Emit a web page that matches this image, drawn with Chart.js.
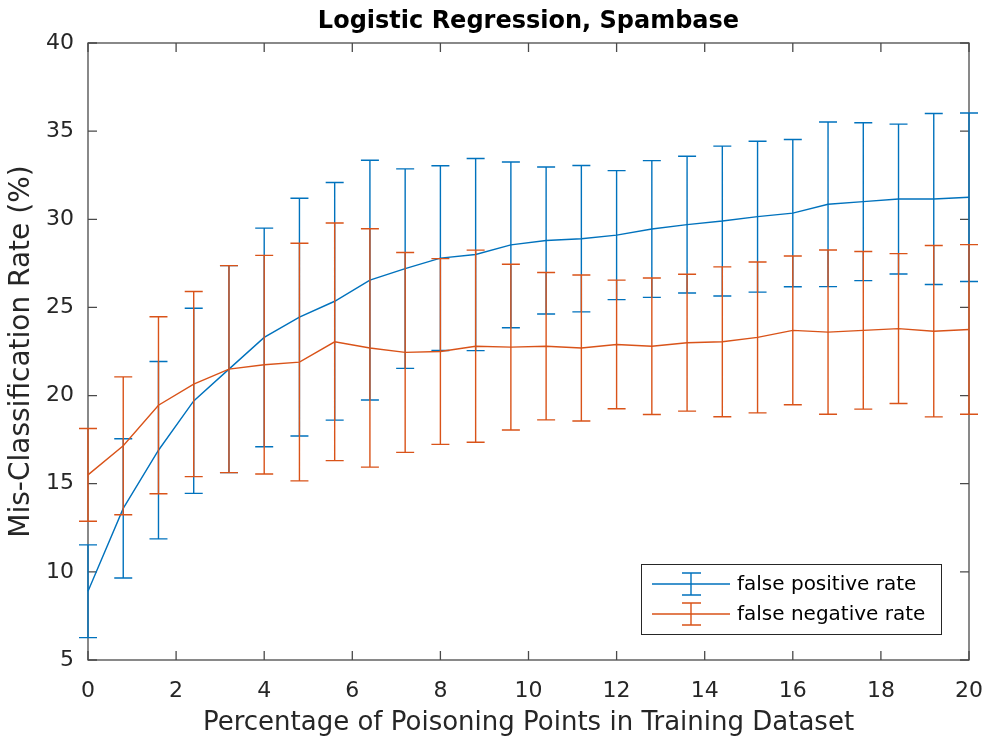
<!DOCTYPE html>
<html>
<head>
<meta charset="utf-8">
<script src="https://cdn.jsdelivr.net/npm/chart.js@4.4.1/dist/chart.umd.min.js"></script>
<style>
html, body { margin: 0; padding: 0; background: #fff; }
</style>
</head>
<body>
<canvas id="grafico" width="986" height="743"></canvas>
<script>
// porcentaje de puntos envenenados (eje x)
var porcentajes = [0, 0.8, 1.6, 2.4, 3.2, 4, 4.8, 5.6, 6.4, 7.2, 8, 8.8, 9.6, 10.4, 11.2, 12, 12.8, 13.6, 14.4, 15.2, 16, 16.8, 17.6, 18.4, 19.2, 20];
// tasas medias (%)
var falsosPositivos = [8.9, 13.6, 16.9, 19.7, 21.5, 23.3, 24.45, 25.35, 26.55, 27.2, 27.8, 28.0, 28.55, 28.8, 28.9, 29.1, 29.45, 29.7, 29.9, 30.15, 30.35, 30.85, 31.0, 31.15, 31.15, 31.25];
var falsosNegativos = [15.5, 17.15, 19.45, 20.65, 21.5, 21.75, 21.9, 23.05, 22.7, 22.45, 22.5, 22.8, 22.75, 22.8, 22.7, 22.9, 22.8, 23.0, 23.05, 23.3, 23.7, 23.6, 23.7, 23.8, 23.65, 23.75];
// desviaciones (barras de error)
var errorPositivos = [2.63, 3.95, 5.03, 5.25, 5.87, 6.2, 6.74, 6.74, 6.8, 5.66, 5.24, 5.45, 4.7, 4.17, 4.15, 3.66, 3.88, 3.88, 4.25, 4.28, 4.18, 4.67, 4.48, 4.25, 4.85, 4.78];
var errorNegativos = [2.63, 3.91, 5.02, 5.25, 5.87, 6.2, 6.74, 6.74, 6.76, 5.67, 5.27, 5.45, 4.7, 4.18, 4.14, 3.65, 3.87, 3.88, 4.25, 4.28, 4.22, 4.66, 4.47, 4.25, 4.86, 4.81];
var etiquetas = ['false positive rate', 'false negative rate'];
var titulo = 'Logistic Regression, Spambase';

var azul = '#0072BD';
var naranja = '#D95319';
var fuente = '"DejaVu Sans", Verdana, sans-serif';

Chart.defaults.font.family = fuente;

function puntos(ys) {
	return porcentajes.map(function (x, i) { return { x: x, y: ys[i] }; });
}

// marco de los ejes con las marcas hacia dentro
var marco = {
	id: 'marco',
	beforeDatasetsDraw: function (chart) {
		var ctx = chart.ctx, a = chart.chartArea;
		var sx = chart.scales.x, sy = chart.scales.y;
		ctx.save();
		ctx.strokeStyle = '#4a4a4a';
		ctx.lineWidth = 1.3;
		ctx.strokeRect(a.left, a.top, a.right - a.left, a.bottom - a.top);
		ctx.beginPath();
		sx.ticks.forEach(function (t) {
			var px = sx.getPixelForValue(t.value);
			ctx.moveTo(px, a.bottom); ctx.lineTo(px, a.bottom - 9);
			ctx.moveTo(px, a.top); ctx.lineTo(px, a.top + 9);
		});
		sy.ticks.forEach(function (t) {
			var py = sy.getPixelForValue(t.value);
			ctx.moveTo(a.left, py); ctx.lineTo(a.left + 9, py);
			ctx.moveTo(a.right, py); ctx.lineTo(a.right - 9, py);
		});
		ctx.stroke();
		ctx.restore();
	}
};

// barras de error de cada serie, dibujadas junto a su linea
var barrasError = {
	id: 'barrasError',
	afterDatasetDraw: function (chart, args) {
		var ds = chart.data.datasets[args.index];
		if (!ds.errores) return;
		var ctx = chart.ctx, sx = chart.scales.x, sy = chart.scales.y;
		ctx.save();
		ctx.strokeStyle = ds.borderColor;
		ctx.lineWidth = 1.4;
		ctx.beginPath();
		ds.data.forEach(function (p, i) {
			var e = ds.errores[i];
			var px = sx.getPixelForValue(p.x);
			var arriba = sy.getPixelForValue(p.y + e);
			var abajo = sy.getPixelForValue(p.y - e);
			ctx.moveTo(px, arriba); ctx.lineTo(px, abajo);
			ctx.moveTo(px - 9, arriba); ctx.lineTo(px + 9, arriba);
			ctx.moveTo(px - 9, abajo); ctx.lineTo(px + 9, abajo);
		});
		ctx.stroke();
		ctx.restore();
	}
};

// titulo centrado sobre el area de dibujo y leyenda con simbolo de barra de error
var textos = {
	id: 'textos',
	afterDraw: function (chart) {
		var ctx = chart.ctx, a = chart.chartArea;
		ctx.save();
		ctx.fillStyle = '#000';
		ctx.font = 'bold 24px ' + fuente;
		ctx.textAlign = 'center';
		ctx.textBaseline = 'middle';
		ctx.fillText(titulo, (a.left + a.right) / 2, 22);

		var x0 = a.right - 328, y0 = a.bottom - 96, w = 300, h = 70;
		ctx.fillStyle = '#fff';
		ctx.fillRect(x0, y0, w, h);
		ctx.strokeStyle = '#262626';
		ctx.lineWidth = 1;
		ctx.strokeRect(x0 + 0.5, y0 + 0.5, w, h);
		ctx.font = '20px ' + fuente;
		ctx.textAlign = 'left';
		chart.data.datasets.forEach(function (ds, i) {
			var cy = y0 + 20 + i * 30;
			ctx.strokeStyle = ds.borderColor;
			ctx.lineWidth = 1.4;
			ctx.beginPath();
			ctx.moveTo(x0 + 11, cy); ctx.lineTo(x0 + 89, cy);
			ctx.moveTo(x0 + 50, cy - 11); ctx.lineTo(x0 + 50, cy + 11);
			ctx.moveTo(x0 + 41, cy - 11); ctx.lineTo(x0 + 60, cy - 11);
			ctx.moveTo(x0 + 41, cy + 11); ctx.lineTo(x0 + 60, cy + 11);
			ctx.stroke();
			ctx.fillStyle = '#000';
			ctx.fillText(ds.label, x0 + 96, cy + 1);
		});
		ctx.restore();
	}
};

var ctx = document.getElementById('grafico').getContext('2d');
var grafico = new Chart(ctx, {
	type: 'line',
	data: {
		datasets: [{
			label: etiquetas[0],
			data: puntos(falsosPositivos),
			errores: errorPositivos,
			borderColor: azul,
			borderWidth: 1.4,
			pointRadius: 0,
			tension: 0,
			clip: false,
			order: 2
		}, {
			label: etiquetas[1],
			data: puntos(falsosNegativos),
			errores: errorNegativos,
			borderColor: naranja,
			borderWidth: 1.4,
			pointRadius: 0,
			tension: 0,
			clip: false,
			order: 1
		}]
	},
	options: {
		responsive: false,
		animation: false,
		layout: { padding: { left: 0, right: 17, top: 43, bottom: 0 } },
		plugins: {
			legend: { display: false },
			tooltip: { enabled: false },
			title: { display: false }
		},
		scales: {
			x: {
				type: 'linear',
				min: 0,
				max: 20,
				ticks: { stepSize: 2, color: '#262626', font: { size: 22 }, padding: 10, maxRotation: 0 },
				grid: { display: false },
				border: { display: false },
				title: {
					display: true,
					text: 'Percentage of Poisoning Points in Training Dataset',
					color: '#262626',
					font: { size: 26 },
					padding: { top: 0, bottom: 4 }
				},
				afterFit: function (s) { s.height = 83; s.paddingRight = 0; s.paddingLeft = 0; }
			},
			y: {
				min: 5,
				max: 40,
				ticks: { stepSize: 5, color: '#262626', font: { size: 22 }, padding: 6 },
				grid: { display: false },
				border: { display: false },
				title: {
					display: true,
					text: 'Mis-Classification Rate (%)',
					color: '#262626',
					font: { size: 28 },
					padding: { top: 5, bottom: 0 }
				},
				afterFit: function (s) { s.width = 88; s.paddingTop = 0; s.paddingBottom = 0; }
			}
		}
	},
	plugins: [marco, barrasError, textos]
});
</script>
</body>
</html>
